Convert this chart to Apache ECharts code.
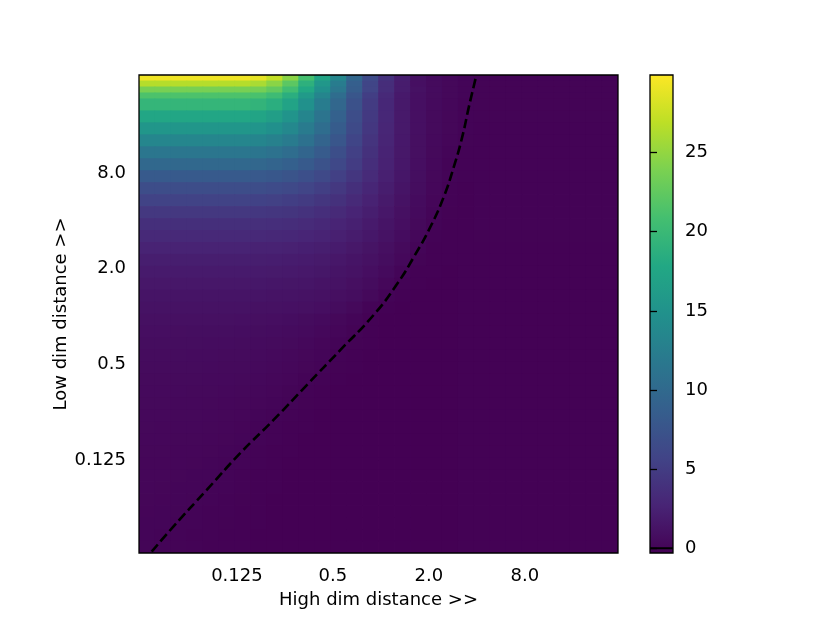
<!DOCTYPE html>
<html>
<head>
<meta charset="utf-8">
<title>Loss landscape</title>
<script src="https://cdn.jsdelivr.net/npm/echarts@6.0.0/dist/echarts.min.js"></script>
<style>
  html, body { margin: 0; padding: 0; background: #fff; }
  #main { width: 830px; height: 623px; }
</style>
</head>
<body>
<div id="main"></div>
<script>
// both axes are log2 of the distance (about 1/32 to 32)
var xRange = [-5.04, 4.94];
var yRange = [-4.944, 5.049];
var xTickPos = [-3, -1, 1, 3];
var xTickLabels = ["0.125", "0.5", "2.0", "8.0"];
var yTickPos = [-3, -1, 1, 3];
var yTickLabels = ["0.125", "0.5", "2.0", "8.0"];
var cbarTicks = [0, 5, 10, 15, 20, 25];
var cbarMin = -0.3;
var cbarMax = 29.9;
var contourLevel = 0;

// dashed zero contour (high dim distance, low dim distance)
var contourHigh = [0.0365, 0.0499, 0.0809, 0.1311, 0.2122, 0.3441, 0.5575, 0.9019, 1.253, 1.625, 2.049, 2.484, 2.872, 3.243, 3.568, 3.932, 3.97];
var contourLow = [0.0331, 0.0476, 0.0811, 0.1380, 0.2234, 0.3717, 0.6165, 1.0245, 1.583, 2.410, 3.685, 5.697, 8.803, 13.60, 21.01, 31.72, 33.3];

// cell edges in log2 units: columns left to right, rows top to bottom
var xEdges = Array.from({ length: 31 }, (_, k) => xRange[0] + k * (xRange[1] - xRange[0]) / 30);
var yEdges = [5.05, 4.925, 4.8, 4.675, 4.55, 4.3, 4.05, 3.8, 3.55, 3.3, 3.05, 2.8, 2.55, 2.3, 2.05, 1.8, 1.55, 1.3, 1.05, 0.8,
              0.55, 0.3, 0.05, -0.2, -0.45, -0.7, -0.95, -1.2, -1.45, -1.7, -1.95, -2.2, -2.45, -2.7, -2.95, -3.2, -3.45,
              -3.7, -3.95, -4.2, -4.45, -4.7, -4.95];

// cell values, one row per yEdges interval
var cells = [
  [29.3,29.3,29.3,29.3,29.3,29.3,29.3,28.8,27.2,24.6,20.9,17.3,13.6,9.7,6.5,4.0,2.2,1.05,0.58,0.31,0.05,-0.08,-0.08,-0.08,-0.08,-0.08,-0.08,-0.08,-0.08,-0.08],
  [26.5,26.5,26.5,26.5,26.5,26.5,26.5,26.0,24.6,22.2,18.9,15.6,12.3,8.8,5.9,3.6,2.0,0.95,0.52,0.28,0.05,-0.08,-0.08,-0.08,-0.08,-0.08,-0.08,-0.08,-0.08,-0.08],
  [23.7,23.7,23.7,23.7,23.7,23.7,23.7,23.5,22.5,20.6,17.8,14.7,11.6,8.5,5.8,3.6,2.0,1.05,0.58,0.29,0.03,-0.08,-0.08,-0.08,-0.08,-0.08,-0.08,-0.08,-0.08,-0.08],
  [21.3,21.3,21.3,21.3,21.3,21.3,21.3,21.1,20.3,18.6,16.0,13.3,10.4,7.7,5.2,3.2,1.8,0.95,0.52,0.27,0.03,-0.08,-0.08,-0.08,-0.08,-0.08,-0.08,-0.08,-0.08,-0.08],
  [19.5,19.5,19.5,19.5,19.5,19.5,19.5,19.3,18.6,17.1,14.8,12.3,9.7,7.2,4.9,3.0,1.75,0.95,0.5,0.25,0.0,-0.08,-0.08,-0.08,-0.08,-0.08,-0.08,-0.08,-0.08,-0.08],
  [17.5,17.5,17.5,17.5,17.5,17.5,17.5,17.3,16.5,15.2,13.4,11.3,9.0,6.8,4.7,3.0,1.75,0.95,0.45,0.2,-0.02,-0.08,-0.08,-0.08,-0.08,-0.08,-0.08,-0.08,-0.08,-0.08],
  [15.5,15.5,15.5,15.5,15.5,15.5,15.5,15.3,14.7,13.7,12.2,10.4,8.4,6.4,4.5,2.9,1.75,0.95,0.45,0.18,-0.05,-0.1,-0.1,-0.1,-0.1,-0.1,-0.1,-0.1,-0.1,-0.1],
  [13.5,13.5,13.5,13.5,13.5,13.5,13.5,13.35,12.9,12.1,10.9,9.4,7.7,5.9,4.2,2.8,1.7,0.9,0.4,0.12,-0.08,-0.1,-0.1,-0.1,-0.1,-0.1,-0.1,-0.1,-0.1,-0.1],
  [11.5,11.5,11.5,11.5,11.5,11.5,11.5,11.4,11.0,10.4,9.5,8.3,6.9,5.4,3.95,2.65,1.65,0.88,0.38,0.05,-0.1,-0.1,-0.1,-0.1,-0.1,-0.1,-0.1,-0.1,-0.1,-0.1],
  [9.8,9.8,9.8,9.8,9.8,9.8,9.8,9.7,9.4,8.9,8.2,7.3,6.2,5.0,3.7,2.55,1.6,0.85,0.33,0.0,-0.12,-0.12,-0.12,-0.12,-0.12,-0.12,-0.12,-0.12,-0.12,-0.12],
  [8.2,8.2,8.2,8.2,8.2,8.2,8.2,8.1,7.9,7.5,7.0,6.3,5.4,4.4,3.35,2.35,1.5,0.8,0.28,-0.05,-0.15,-0.12,-0.12,-0.12,-0.12,-0.12,-0.12,-0.12,-0.12,-0.12],
  [6.8,6.8,6.8,6.8,6.8,6.8,6.8,6.75,6.55,6.25,5.85,5.3,4.6,3.8,2.95,2.1,1.35,0.7,0.22,-0.1,-0.18,-0.12,-0.12,-0.12,-0.12,-0.12,-0.12,-0.12,-0.12,-0.12],
  [5.6,5.6,5.6,5.6,5.6,5.6,5.6,5.55,5.42,5.2,4.9,4.45,3.9,3.25,2.55,1.85,1.2,0.6,0.15,-0.13,-0.2,-0.14,-0.14,-0.14,-0.14,-0.14,-0.14,-0.14,-0.14,-0.14],
  [4.6,4.6,4.6,4.6,4.6,4.6,4.6,4.56,4.46,4.28,4.02,3.68,3.25,2.75,2.18,1.6,1.02,0.48,0.05,-0.17,-0.22,-0.15,-0.15,-0.15,-0.15,-0.15,-0.15,-0.15,-0.15,-0.15],
  [3.8,3.8,3.8,3.8,3.8,3.8,3.8,3.77,3.69,3.56,3.36,3.1,2.76,2.34,1.86,1.36,0.85,0.35,-0.06,-0.2,-0.22,-0.16,-0.16,-0.16,-0.16,-0.16,-0.16,-0.16,-0.16,-0.16],
  [3.2,3.2,3.2,3.2,3.2,3.2,3.2,3.17,3.11,3.0,2.85,2.64,2.36,2.0,1.58,1.14,0.68,0.22,-0.12,-0.22,-0.23,-0.17,-0.17,-0.17,-0.17,-0.17,-0.17,-0.17,-0.17,-0.17],
  [2.6,2.6,2.6,2.6,2.6,2.6,2.6,2.58,2.53,2.45,2.33,2.17,1.95,1.66,1.3,0.9,0.47,0.05,-0.18,-0.24,-0.24,-0.18,-0.18,-0.18,-0.18,-0.18,-0.18,-0.18,-0.18,-0.18],
  [2.2,2.2,2.2,2.2,2.2,2.2,2.2,2.18,2.14,2.07,1.97,1.83,1.63,1.38,1.06,0.7,0.3,-0.08,-0.22,-0.25,-0.25,-0.19,-0.19,-0.19,-0.19,-0.19,-0.19,-0.19,-0.19,-0.19],
  [1.9,1.9,1.9,1.9,1.9,1.9,1.9,1.88,1.84,1.78,1.69,1.56,1.38,1.15,0.85,0.48,0.05,-0.18,-0.25,-0.26,-0.25,-0.2,-0.2,-0.2,-0.2,-0.2,-0.2,-0.2,-0.2,-0.2],
  [1.6,1.6,1.6,1.6,1.6,1.6,1.6,1.58,1.54,1.48,1.4,1.29,1.13,0.92,0.62,0.22,-0.12,-0.24,-0.26,-0.26,-0.25,-0.2,-0.2,-0.2,-0.2,-0.2,-0.2,-0.2,-0.2,-0.2],
  [1.35,1.35,1.35,1.35,1.35,1.35,1.34,1.32,1.29,1.24,1.17,1.07,0.92,0.7,0.38,0.0,-0.2,-0.26,-0.27,-0.26,-0.25,-0.21,-0.21,-0.21,-0.21,-0.21,-0.21,-0.21,-0.21,-0.21],
  [1.15,1.15,1.15,1.15,1.15,1.14,1.13,1.11,1.08,1.03,0.96,0.85,0.66,0.36,0.0,-0.2,-0.27,-0.28,-0.27,-0.26,-0.25,-0.22,-0.22,-0.22,-0.22,-0.22,-0.22,-0.22,-0.22,-0.22],
  [1.0,1.0,1.0,0.99,0.98,0.96,0.94,0.9,0.85,0.77,0.66,0.5,0.28,0.04,-0.18,-0.26,-0.28,-0.28,-0.27,-0.26,-0.25,-0.23,-0.23,-0.23,-0.23,-0.23,-0.23,-0.23,-0.23,-0.23],
  [0.85,0.85,0.84,0.83,0.82,0.8,0.77,0.73,0.67,0.59,0.48,0.33,0.12,-0.08,-0.22,-0.27,-0.28,-0.28,-0.27,-0.26,-0.25,-0.23,-0.23,-0.23,-0.23,-0.23,-0.23,-0.23,-0.23,-0.23],
  [0.72,0.72,0.71,0.7,0.69,0.67,0.64,0.6,0.54,0.45,0.33,0.17,0.0,-0.17,-0.25,-0.28,-0.28,-0.28,-0.27,-0.26,-0.25,-0.24,-0.24,-0.24,-0.24,-0.24,-0.24,-0.24,-0.24,-0.24],
  [0.62,0.62,0.61,0.6,0.58,0.56,0.53,0.48,0.42,0.33,0.2,0.04,-0.13,-0.23,-0.27,-0.28,-0.28,-0.28,-0.27,-0.26,-0.25,-0.24,-0.24,-0.24,-0.24,-0.24,-0.24,-0.24,-0.24,-0.24],
  [0.54,0.54,0.53,0.52,0.5,0.47,0.44,0.39,0.32,0.22,0.1,-0.04,-0.17,-0.25,-0.28,-0.28,-0.28,-0.28,-0.27,-0.26,-0.25,-0.24,-0.24,-0.24,-0.24,-0.24,-0.24,-0.24,-0.24,-0.24],
  [0.47,0.47,0.46,0.44,0.42,0.39,0.35,0.3,0.22,0.12,0.0,-0.13,-0.22,-0.27,-0.28,-0.28,-0.28,-0.28,-0.27,-0.26,-0.25,-0.24,-0.24,-0.24,-0.24,-0.24,-0.24,-0.24,-0.24,-0.24],
  [0.41,0.41,0.4,0.38,0.36,0.33,0.28,0.22,0.13,0.02,-0.1,-0.2,-0.26,-0.28,-0.28,-0.28,-0.28,-0.28,-0.27,-0.26,-0.25,-0.24,-0.24,-0.24,-0.24,-0.24,-0.24,-0.24,-0.24,-0.24],
  [0.36,0.35,0.34,0.32,0.29,0.25,0.2,0.13,0.04,-0.07,-0.17,-0.24,-0.27,-0.28,-0.28,-0.28,-0.28,-0.28,-0.27,-0.26,-0.25,-0.24,-0.24,-0.24,-0.24,-0.24,-0.24,-0.24,-0.24,-0.24],
  [0.31,0.3,0.29,0.27,0.24,0.2,0.14,0.07,-0.03,-0.13,-0.21,-0.26,-0.28,-0.28,-0.28,-0.28,-0.28,-0.28,-0.27,-0.26,-0.25,-0.24,-0.24,-0.24,-0.24,-0.24,-0.24,-0.24,-0.24,-0.24],
  [0.27,0.26,0.24,0.22,0.19,0.14,0.08,0.0,-0.09,-0.18,-0.24,-0.27,-0.28,-0.28,-0.28,-0.28,-0.28,-0.28,-0.27,-0.26,-0.25,-0.24,-0.24,-0.24,-0.24,-0.24,-0.24,-0.24,-0.24,-0.24],
  [0.23,0.22,0.2,0.18,0.14,0.09,0.03,-0.06,-0.15,-0.22,-0.26,-0.28,-0.28,-0.28,-0.28,-0.28,-0.28,-0.28,-0.27,-0.26,-0.25,-0.24,-0.24,-0.24,-0.24,-0.24,-0.24,-0.24,-0.24,-0.24],
  [0.2,0.19,0.17,0.14,0.1,0.05,-0.02,-0.11,-0.19,-0.24,-0.27,-0.28,-0.28,-0.28,-0.28,-0.28,-0.28,-0.28,-0.27,-0.26,-0.25,-0.24,-0.24,-0.24,-0.24,-0.24,-0.24,-0.24,-0.24,-0.24],
  [0.17,0.15,0.13,0.1,0.06,0.0,-0.07,-0.15,-0.22,-0.26,-0.28,-0.28,-0.28,-0.28,-0.28,-0.28,-0.28,-0.28,-0.27,-0.26,-0.25,-0.24,-0.24,-0.24,-0.24,-0.24,-0.24,-0.24,-0.24,-0.24],
  [0.14,0.12,0.1,0.07,0.03,-0.04,-0.11,-0.18,-0.24,-0.27,-0.28,-0.28,-0.28,-0.28,-0.28,-0.28,-0.28,-0.28,-0.27,-0.26,-0.25,-0.24,-0.24,-0.24,-0.24,-0.24,-0.24,-0.24,-0.24,-0.24],
  [0.12,0.1,0.07,0.03,0.0,-0.07,-0.14,-0.2,-0.25,-0.27,-0.28,-0.28,-0.28,-0.28,-0.28,-0.28,-0.28,-0.28,-0.27,-0.26,-0.25,-0.24,-0.24,-0.24,-0.24,-0.24,-0.24,-0.24,-0.24,-0.24],
  [0.1,0.08,0.05,0.01,-0.05,-0.11,-0.17,-0.22,-0.26,-0.28,-0.28,-0.28,-0.28,-0.28,-0.28,-0.28,-0.28,-0.28,-0.27,-0.26,-0.25,-0.24,-0.24,-0.24,-0.24,-0.24,-0.24,-0.24,-0.24,-0.24],
  [0.08,0.05,0.02,-0.04,-0.09,-0.15,-0.2,-0.24,-0.27,-0.28,-0.28,-0.28,-0.28,-0.28,-0.28,-0.28,-0.28,-0.28,-0.27,-0.26,-0.25,-0.24,-0.24,-0.24,-0.24,-0.24,-0.24,-0.24,-0.24,-0.24],
  [0.06,0.03,0.0,-0.06,-0.12,-0.17,-0.22,-0.25,-0.27,-0.28,-0.28,-0.28,-0.28,-0.28,-0.28,-0.28,-0.28,-0.28,-0.27,-0.26,-0.25,-0.24,-0.24,-0.24,-0.24,-0.24,-0.24,-0.24,-0.24,-0.24],
  [0.04,0.0,-0.05,-0.1,-0.15,-0.2,-0.24,-0.26,-0.27,-0.28,-0.28,-0.28,-0.28,-0.28,-0.28,-0.28,-0.28,-0.28,-0.27,-0.26,-0.25,-0.24,-0.24,-0.24,-0.24,-0.24,-0.24,-0.24,-0.24,-0.24],
  [0.02,-0.03,-0.08,-0.13,-0.18,-0.22,-0.25,-0.27,-0.28,-0.28,-0.28,-0.28,-0.28,-0.28,-0.28,-0.28,-0.28,-0.28,-0.27,-0.26,-0.25,-0.24,-0.24,-0.24,-0.24,-0.24,-0.24,-0.24,-0.24,-0.24]
];

var viridis = ["#440154", "#482475", "#414487", "#355f8d", "#2a788e", "#21918c",
               "#22a884", "#44bf70", "#7ad151", "#bddf26", "#fde725"];

// [x, y, value, col, row]
var cellData = [];
cells.forEach((row, i) => {
  row.forEach((v, j) => cellData.push([xEdges[j], yEdges[i], v, j, i]));
});

var contourData = contourHigh.map((h, k) => [Math.log2(h), Math.log2(contourLow[k])]);

function tickText(pos, labels) {
  return function (v) {
    var k = pos.indexOf(Math.round(v * 1000) / 1000);
    return k >= 0 ? labels[k] : "";
  };
}

function renderCell(params, api) {
  var j = api.value(3);
  var i = api.value(4);
  var a = api.coord([xEdges[j], yEdges[i]]);
  var b = api.coord([xEdges[j + 1], yEdges[i + 1]]);
  // slight overlap so neighbouring cells leave no hairline seams
  return {
    type: "rect",
    shape: {
      x: Math.min(a[0], b[0]) - 0.4,
      y: Math.min(a[1], b[1]) - 0.4,
      width: Math.abs(b[0] - a[0]) + 0.8,
      height: Math.abs(b[1] - a[1]) + 0.8
    },
    style: { fill: api.visual("color") }
  };
}

var font = "DejaVu Sans";
var fs = 18;

var myChart = echarts.init(document.getElementById("main"));
var option = {
  animation: false,
  backgroundColor: "#fff",
  textStyle: { fontFamily: font },
  grid: [
    {
      left: 139, top: 75, width: 479, height: 478,
      show: true, backgroundColor: "transparent", borderColor: "#000", borderWidth: 1.3, z: 10
    },
    {
      left: 650, top: 75, width: 23, height: 478,
      show: true, borderColor: "#000", borderWidth: 1.3,
      backgroundColor: new echarts.graphic.LinearGradient(0, 1, 0, 0,
        viridis.map((c, k) => ({ offset: k / (viridis.length - 1), color: c })))
    }
  ],
  xAxis: [
    {
      gridIndex: 0, type: "value", min: xRange[0], max: xRange[1],
      axisLine: { show: false },
      splitLine: { show: false },
      axisTick: { customValues: xTickPos, length: 7, lineStyle: { color: "#000", width: 1.3 } },
      axisLabel: { customValues: xTickPos, formatter: tickText(xTickPos, xTickLabels), color: "#000", fontSize: fs, margin: 14, fontFamily: font },
      name: "High dim distance >>", nameLocation: "middle", nameGap: 38,
      nameTextStyle: { color: "#000", fontSize: fs, fontFamily: font }
    },
    { gridIndex: 1, type: "value", min: 0, max: 1, show: false }
  ],
  yAxis: [
    {
      gridIndex: 0, type: "value", min: yRange[0], max: yRange[1],
      axisLine: { show: false },
      splitLine: { show: false },
      axisTick: { customValues: yTickPos, length: 7, lineStyle: { color: "#000", width: 1.3 } },
      axisLabel: { customValues: yTickPos, formatter: tickText(yTickPos, yTickLabels), color: "#000", fontSize: fs, margin: 13, fontFamily: font },
      name: "Low dim distance >>", nameLocation: "middle", nameGap: 69, nameMoveOverlap: false,
      nameTextStyle: { color: "#000", fontSize: fs, fontFamily: font }
    },
    {
      gridIndex: 1, type: "value", min: cbarMin, max: cbarMax, position: "right",
      axisLine: { show: false },
      splitLine: { show: false },
      axisTick: { customValues: cbarTicks, length: 7, lineStyle: { color: "#000", width: 1.3 } },
      axisLabel: { customValues: cbarTicks, color: "#000", fontSize: fs, margin: 12, fontFamily: font }
    }
  ],
  visualMap: {
    show: false,
    type: "continuous",
    min: cbarMin,
    max: cbarMax,
    dimension: 2,
    seriesIndex: 0,
    inRange: { color: viridis }
  },
  series: [
    {
      type: "custom",
      xAxisIndex: 0,
      yAxisIndex: 0,
      data: cellData,
      renderItem: renderCell,
      clip: true,
      silent: true
    },
    {
      type: "line",
      xAxisIndex: 0,
      yAxisIndex: 0,
      data: contourData,
      smooth: 0.5,
      symbol: "none",
      lineStyle: { color: "#000", width: 2.6, type: [9.5, 4.2] }
    },
    {
      type: "line",
      xAxisIndex: 1,
      yAxisIndex: 1,
      data: [[0, contourLevel], [1, contourLevel]],
      symbol: "none",
      lineStyle: { color: "#000", width: 2 }
    }
  ]
};
myChart.setOption(option);
</script>
</body>
</html>
